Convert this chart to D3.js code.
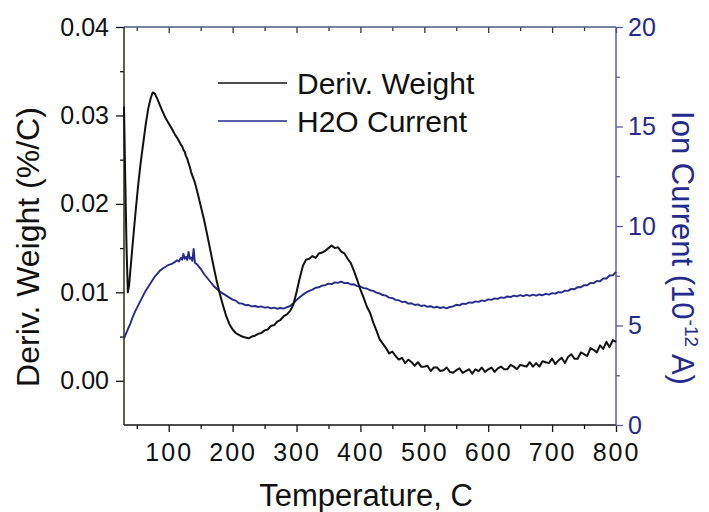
<!DOCTYPE html>
<html><head><meta charset="utf-8">
<script src="https://cdn.jsdelivr.net/npm/d3@7"></script>
<style>body{margin:0;background:#fff}svg{display:block}text{font-family:"Liberation Sans",Arial,sans-serif}</style>
</head><body><svg id="c" width="709" height="512"></svg>
<script>
const temps = [30,32,34,36,38,40,44,48,52,56,60,64,68,72,75,78,82,86,90,95,100,105,110,113,116,119,121,123,125,127,129,131,133,135,137,139,141,145,150,155,160,165,170,175,180,185,190,195,
200,205,210,215,220,225,230,235,240,245,250,255,260,265,270,275,280,285,290,295,300,305,310,315,320,325,330,335,340,345,350,355,360,365,370,375,380,385,390,395,
400,405,410,415,420,425,430,435,440,445,450,455,460,465,470,475,480,485,490,495,500,505,510,515,520,525,530,535,540,545,550,555,560,565,570,575,580,585,590,595,
600,605,610,615,620,625,630,635,640,645,650,655,660,665,670,675,680,685,690,695,700,705,710,715,720,725,730,735,740,745,750,755,760,765,770,775,780,785,790,795,800];
const derivWeight = [.0310,.0225,.0150,.0100,.0108,.0125,.0158,.0190,.0220,.0246,.0268,.0290,.0308,.0320,.0326,.0325,.0319,.0312,.0305,.0297,.0291,.0285,.0278,.0275,.0271,.0267,.0265,.0261,.0259,.0254,.0251,.0246,.0242,.0236,.0232,.0228,.0224,.0213,.0198,.0183,.0166,.0148,.0130,.0113,.0098,.0085,.0073,.0064,
.0058,.0054,.0052,.0050,.0049,.0048,.0050,.0051,.0053,.0054,.0057,.0058,.0062,.0063,.0067,.0069,.0073,.0075,.0079,.0086,.0100,.0116,.0130,.0137,.0138,.0141,.0139,.0144,.0145,.0147,.0150,.0153,.0150,.0151,.0146,.0144,.0138,.0133,.0124,.0114,
.0103,.0094,.0084,.0077,.0066,.0057,.0047,.0042,.0037,.0031,.0033,.0028,.0024,.0026,.0020,.0024,.0021,.0017,.0021,.0016,.0016,.0017,.0011,.0015,.0015,.0011,.0012,.0015,.0010,.0009,.0012,.0014,.0009,.0011,.0013,.0008,.0013,.0011,.0015,.0010,
.0013,.0015,.0010,.0014,.0016,.0013,.0013,.0018,.0016,.0013,.0018,.0017,.0016,.0021,.0016,.0020,.0016,.0022,.0021,.0020,.0025,.0019,.0023,.0026,.0020,.0027,.0030,.0025,.0025,.0032,.0030,.0028,.0037,.0035,.0032,.0040,.0036,.0044,.0038,.0046,.0044];
const h2oCurrent = [4.35,4.5,4.65,4.8,4.95,5.1,5.45,5.75,6.0,6.25,6.5,6.75,6.95,7.15,7.3,7.45,7.6,7.75,7.85,7.95,8.05,8.1,8.2,8.28,8.22,8.4,8.3,8.6,8.35,8.45,8.3,8.7,8.35,8.42,8.25,8.85,8.15,8.05,7.85,7.6,7.4,7.2,7.0,6.85,6.7,6.6,6.5,6.4,
6.30,6.25,6.12,6.10,6.02,6.03,5.96,5.98,5.93,5.96,5.90,5.92,5.86,5.90,5.84,5.88,5.85,5.92,5.98,6.12,6.28,6.42,6.55,6.66,6.74,6.80,6.90,6.92,7.00,7.03,7.10,7.08,7.17,7.14,7.20,7.13,7.14,7.06,7.07,6.98,
6.96,6.88,6.86,6.77,6.74,6.65,6.61,6.53,6.50,6.40,6.38,6.29,6.27,6.18,6.20,6.10,6.12,6.03,6.06,5.98,6.01,5.94,5.97,5.90,5.94,5.88,5.92,5.86,5.93,5.96,6.04,6.01,6.10,6.08,6.16,6.14,6.21,6.19,6.26,6.23,
6.31,6.29,6.36,6.34,6.41,6.39,6.46,6.43,6.50,6.46,6.53,6.48,6.54,6.49,6.55,6.50,6.56,6.52,6.59,6.55,6.63,6.60,6.68,6.66,6.75,6.74,6.84,6.82,6.93,6.92,7.03,7.02,7.14,7.13,7.24,7.22,7.36,7.36,7.51,7.52,7.70];
const xMajor = [100,200,300,400,500,600,700,800];
const xMinor = [50,150,250,350,450,550,650,750];
const yLMajor = [0,0.01,0.02,0.03,0.04];
const yLMinor = [0.005,0.015,0.025,0.035];
const yRMajor = [0,5,10,15,20];
const yRMinor = [2.5,7.5,12.5,17.5];
const seriesNames = ["Deriv. Weight","H2O Current"];

const svg = d3.select("#c");
const L=124,R=616,T=27,B=425;
const x = d3.scaleLinear().domain([30,800]).range([L,R]);
const yL = d3.scaleLinear().domain([-0.005,0.04]).range([B,T]);
const yR = d3.scaleLinear().domain([0,20]).range([B,T]);
const blackC="#111", blueC="#262a8c", axisBlue="#5a5aaa";

function styleAxis(g,color,fs){
  g.select(".domain").remove();
  g.selectAll("line").attr("stroke",color).attr("stroke-width",1.3);
  g.selectAll("text").attr("font-size",fs).attr("fill",color==axisBlue?blueC:"#111");
}
// bottom
svg.append("g").attr("transform",`translate(0,${B})`).call(d3.axisBottom(x).tickValues(xMajor).tickSize(7).tickPadding(11).tickFormat(d3.format("d"))).call(g=>styleAxis(g,"#111",25)).selectAll("text").attr("letter-spacing","2px");
svg.append("g").attr("transform",`translate(0,${B})`).call(d3.axisBottom(x).tickValues(xMinor).tickSize(4).tickFormat("")).call(g=>styleAxis(g,"#111",25));
// top (inward)
svg.append("g").attr("transform",`translate(0,${T})`).call(d3.axisBottom(x).tickValues(xMajor).tickSize(6).tickFormat("")).call(g=>styleAxis(g,"#334",25));
svg.append("g").attr("transform",`translate(0,${T})`).call(d3.axisBottom(x).tickValues(xMinor).tickSize(4).tickFormat("")).call(g=>styleAxis(g,"#334",25));
// left
svg.append("g").attr("transform",`translate(${L},0)`).call(d3.axisLeft(yL).tickValues(yLMajor).tickSize(8).tickPadding(7).tickFormat(d3.format(".2f"))).call(g=>styleAxis(g,"#111",25));
svg.append("g").attr("transform",`translate(${L},0)`).call(d3.axisLeft(yL).tickValues(yLMinor).tickSize(4).tickFormat("")).call(g=>styleAxis(g,"#111",25));
// right
svg.append("g").attr("transform",`translate(${R},0)`).call(d3.axisRight(yR).tickValues(yRMajor).tickSize(7).tickPadding(5).tickFormat(d3.format("d"))).call(g=>styleAxis(g,axisBlue,25));
svg.append("g").attr("transform",`translate(${R},0)`).call(d3.axisRight(yR).tickValues(yRMinor).tickSize(4).tickFormat("")).call(g=>styleAxis(g,axisBlue,25));

// frame lines
svg.append("line").attr("x1",L).attr("x2",R).attr("y1",B).attr("y2",B).attr("stroke","#111").attr("stroke-width",1.5);
svg.append("line").attr("x1",L).attr("x2",R).attr("y1",T).attr("y2",T).attr("stroke","#4a5a8a").attr("stroke-width",1.5);
svg.append("line").attr("x1",L).attr("x2",L).attr("y1",T).attr("y2",B).attr("stroke","#2a2a1a").attr("stroke-width",1.5);
svg.append("line").attr("x1",R).attr("x2",R).attr("y1",T).attr("y2",B).attr("stroke",axisBlue).attr("stroke-width",1.5);

// lines
const lineL = d3.line().x((d,i)=>x(temps[i])).y(d=>yL(d));
const lineR = d3.line().x((d,i)=>x(temps[i])).y(d=>yR(d));
svg.append("path").datum(h2oCurrent).attr("d",lineR).attr("fill","none").attr("stroke",blueC).attr("stroke-width",1.9).attr("stroke-linejoin","round");
svg.append("path").datum(derivWeight).attr("d",lineL).attr("fill","none").attr("stroke",blackC).attr("stroke-width",2).attr("stroke-linejoin","round");

// legend
const lg = svg.append("g");
[[blackC,83,94],[blueC,121,132]].forEach((s,i)=>{
  lg.append("line").attr("x1",218).attr("x2",287).attr("y1",s[1]).attr("y2",s[1]).attr("stroke",s[0]).attr("stroke-width",1.6);
  lg.append("text").attr("x",297).attr("y",s[2]).attr("font-size",30).attr("fill","#111").text(seriesNames[i]);
});

// titles
svg.append("text").attr("x",366).attr("y",506).attr("text-anchor","middle").attr("font-size",31).attr("fill","#111").text("Temperature, C");
svg.append("text").attr("transform","translate(39,247) rotate(-90)").attr("text-anchor","middle").attr("font-size",32).attr("fill","#111").text("Deriv. Weight (%/C)");
const rt = svg.append("text").attr("transform","translate(672,248) rotate(90)").attr("text-anchor","middle").attr("font-size",31).attr("fill",blueC);
rt.append("tspan").text("Ion Current (10");
rt.append("tspan").attr("font-size",19).attr("dy",-13).text("-12");
rt.append("tspan").attr("dy",13).text(" A)");
</script></body></html>
